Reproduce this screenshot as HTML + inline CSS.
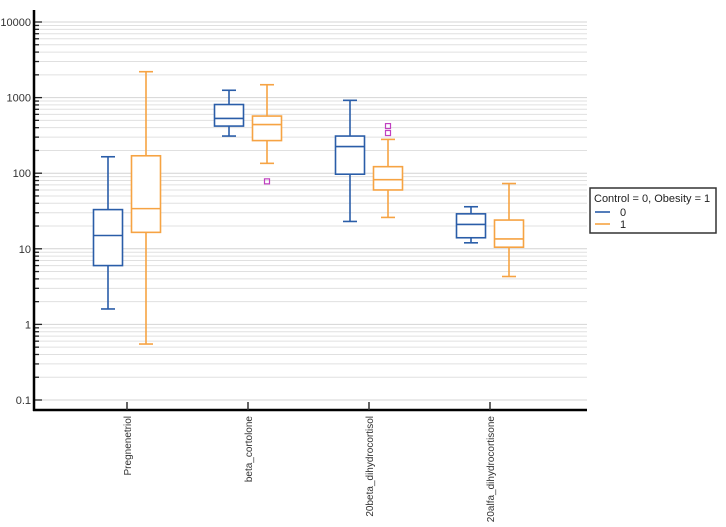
<!DOCTYPE html>
<html><head><meta charset="utf-8"><style>
body{margin:0;background:#fff;font-family:"Liberation Sans",Arial,sans-serif}
svg text{font-family:"Liberation Sans",Arial,sans-serif}
</style></head><body>
<svg id="c" width="726" height="522" xmlns="http://www.w3.org/2000/svg"></svg>
<script>
const categories=["Pregnenetriol","beta_cortolone","20beta_dihydrocortisol","20alfa_dihydrocortisone"];
const groups=["0","1"];
const whiskerLow=[[1.6,0.55],[310,135],[23,26],[12,4.3]];
const q1=[[6,16.5],[420,270],[97,60],[14,10.5]];
const median=[[15,34],[530,440],[225,82],[21,13.5]];
const q3=[[33,170],[810,570],[310,122],[29,24]];
const whiskerHigh=[[165,2200],[1250,1480],[920,280],[36,73]];
const outliers=[[[],[]],[[],[78]],[[],[340,420]],[[],[]]];
const tickValues=[0.1,1,10,100,1000,10000];
const tickLabels=["0.1","1","10","100","1000","10000"];
const colors=["#2a5da8","#f6a343"];
const NS="http://www.w3.org/2000/svg";
const svg=document.getElementById('c');
function y(v){return 400-75.6*(Math.log10(v)+1);}
function x(i){return 127+121*i;}
function el(t,a,p){const e=document.createElementNS(NS,t);for(const k in a)e.setAttribute(k,a[k]);(p||svg).appendChild(e);return e;}
const L=34,R=587,B=410;
// grid
const grid=el('g',{});


for(let d=-1;d<=4;d++){for(let m=1;m<=9;m++){const v=m*Math.pow(10,d);if(v>10000)break;const yy=y(v);
el('line',{x1:L,x2:R,y1:yy,y2:yy,stroke:m==1?'#d4d4d4':'#e0e0e0','stroke-width':1},grid);
el('line',{x1:L,x2:m==1?L+8:L+5,y1:yy,y2:yy,stroke:'#222','stroke-width':1.3},grid);}}
// axes
const ya=el('line',{x1:L,x2:L,y1:10,y2:B+1,stroke:'#000','stroke-width':2.5});

const xa=el('line',{x1:L-1,x2:R,y1:B,y2:B,stroke:'#000','stroke-width':2.5});

tickValues.forEach((v,i)=>{const t=el('text',{x:L-3,y:y(v)+4,'text-anchor':'end','font-size':11,fill:'#333'});t.textContent=tickLabels[i];
});
categories.forEach((c,i)=>{
el('line',{x1:x(i),x2:x(i),y1:B-8,y2:B,stroke:'#333','stroke-width':1.5});
const t=el('text',{x:0,y:0,'text-anchor':'end','font-size':10,fill:'#333',transform:`translate(${x(i)+4},416) rotate(-90)`});t.textContent=c;

groups.forEach((g,j)=>{
const cx=x(i)+(j==0?-19:19),w=14.5,col=colors[j];
const gg=el('g',{stroke:col,'stroke-width':1.6,fill:'none'});


el('line',{x1:cx,x2:cx,y1:y(whiskerHigh[i][j]),y2:y(q3[i][j])},gg);
el('line',{x1:cx,x2:cx,y1:y(q1[i][j]),y2:y(whiskerLow[i][j])},gg);
el('line',{x1:cx-7,x2:cx+7,y1:y(whiskerHigh[i][j]),y2:y(whiskerHigh[i][j])},gg);
el('line',{x1:cx-7,x2:cx+7,y1:y(whiskerLow[i][j]),y2:y(whiskerLow[i][j])},gg);
el('rect',{x:cx-w,y:y(q3[i][j]),width:2*w,height:y(q1[i][j])-y(q3[i][j]),fill:'#fff'},gg);
el('line',{x1:cx-w,x2:cx+w,y1:y(median[i][j]),y2:y(median[i][j])},gg);
outliers[i][j].forEach(o=>{const r=el('rect',{x:cx-2.5,y:y(o)-2.5,width:5,height:5,fill:'none',stroke:'#c040c0','stroke-width':1.2});
});
});});
// legend
const lg=el('g',{});


el('rect',{x:590,y:188,width:126,height:45,fill:'#fff',stroke:'#333','stroke-width':1.5},lg);
const lt=el('text',{x:594,y:202,'font-size':11,fill:'#222'},lg);lt.textContent='Control = 0, Obesity = 1';
groups.forEach((g,j)=>{const yy=212+j*12;
el('line',{x1:595,x2:610,y1:yy,y2:yy,stroke:colors[j],'stroke-width':1.6},lg);
const t=el('text',{x:620,y:yy+4,'font-size':11,fill:'#222'},lg);t.textContent=g;
});
</script>
</body></html>
